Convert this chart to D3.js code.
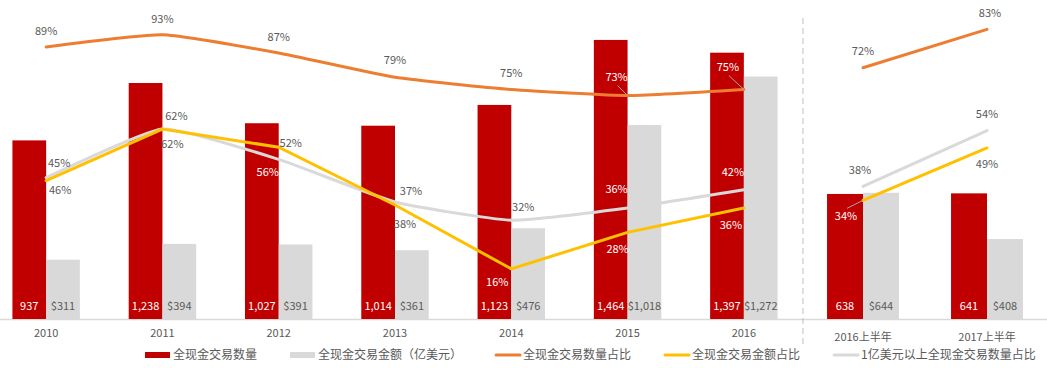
<!DOCTYPE html>
<html>
<head>
<meta charset="utf-8">
<style>
  body { margin: 0; background: #fff; }
  text { font-family: "Noto Sans CJK SC", "Noto Sans", sans-serif; }
</style>
</head>
<body>
<script src="https://d3js.org/d3.v7.min.js"></script>
<script>
// full years
var years = ['2010', '2011', '2012', '2013', '2014', '2015', '2016'];
var counts = [937, 1238, 1027, 1014, 1123, 1464, 1397];
var amounts = [311, 394, 391, 361, 476, 1018, 1272];
var countShare = [89, 93, 87, 79, 75, 73, 75];
var amountShare = [45, 62, 56, 37, 16, 28, 36];
var bigShare = [46, 62, 52, 38, 32, 36, 42];

// half years
var halfYears = ['2016上半年', '2017上半年'];
var halfCounts = [638, 641];
var halfAmounts = [644, 408];
var halfCountShare = [72, 83];
var halfAmountShare = [34, 49];
var halfBigShare = [38, 54];

var legendNames = ['全现金交易数量', '全现金交易金额（亿美元）', '全现金交易数量占比', '全现金交易金额占比', '1亿美元以上全现金交易数量占比'];

// label placement (dx, dy from the point), third item = draw a leader line
var countLabelPos = [[0,-16],[0,-16],[0,-16],[0,-17],[0,-16],[-11,-18,1],[-16,-22,1]];
var amountLabelPos = [[13,-18],[14,-13],[-11,25],[16,-14],[-14,13],[-10,17],[-13,17]];
var bigLabelPos = [[14,12],[10,15],[12,-16],[10,22],[12,-13],[-11,-19],[-11,-18]];
var halfCountLabelPos = [[0,-17],[3,-16]];
var halfAmountLabelPos = [[-17,16,1],[0,16]];
var halfBigLabelPos = [[-3,-16],[0,-16]];

var red = '#C00000', grey = '#D9D9D9', orange = '#ED7D31', yellow = '#FFC000', txt = '#595959';
var width = 1047, height = 368, base = 319;

var svg = d3.select('body').append('svg')
    .attr('width', width)
    .attr('height', height);

var gBars = svg.append('g'), gLines = svg.append('g'), gLabels = svg.append('g');
var redRects = [];
var smooth = d3.curveCardinal.tension(0.55);

function panel(cats, cnt, amt, cShare, aShare, bShare, xr, yMax, pRange, pos, axisPad) {
    var x0 = d3.scaleBand().domain(cats).range(xr).paddingInner(0.42).paddingOuter(0.21);
    var x1 = d3.scaleBand().domain(['c', 'a']).range([0, x0.bandwidth()]);
    var y = d3.scaleLinear().domain([0, 1600]).range([base, yMax]);
    var yp = d3.scaleLinear().domain([0, 100]).range(pRange);
    var cx = function(d, i) { return x0(cats[i]) + x0.bandwidth() / 2; };

    // axis
    var ax = svg.insert('g', ':first-child')
        .attr('transform', 'translate(0,' + base + ')')
        .call(d3.axisBottom(x0).tickSize(0).tickPadding(axisPad));
    ax.select('.domain').attr('stroke', grey).attr('stroke-width', 1.5);
    ax.selectAll('text').attr('fill', txt).style('font-size', '11px')
        .style('font-family', '"Noto Sans CJK SC", sans-serif');

    gBars.selectAll(null).data(cnt).enter().append('rect')
        .attr('x', function(d, i) { return x0(cats[i]) + x1('c'); })
        .attr('width', x1.bandwidth())
        .attr('y', function(d) { return y(d); })
        .attr('height', function(d) { return base - y(d); })
        .attr('fill', red)
        .each(function(d, i) {
            redRects.push([x0(cats[i]) + x1('c'), y(d), x0(cats[i]) + x1('c') + x1.bandwidth()]);
        });
    gBars.selectAll(null).data(amt).enter().append('rect')
        .attr('x', function(d, i) { return x0(cats[i]) + x1('a'); })
        .attr('width', x1.bandwidth())
        .attr('y', function(d) { return y(d); })
        .attr('height', function(d) { return base - y(d); })
        .attr('fill', grey);

    // bar value labels
    gLabels.selectAll(null).data(cnt).enter().append('text')
        .attr('x', function(d, i) { return x0(cats[i]) + x1('c') + x1.bandwidth() / 2; })
        .attr('y', 306).attr('dy', '0.35em')
        .attr('text-anchor', 'middle').attr('fill', '#fff').style('font-size', '11px')
        .text(function(d) { return d3.format(',')(d); });
    gLabels.selectAll(null).data(amt).enter().append('text')
        .attr('x', function(d, i) { return x0(cats[i]) + x1('a') + x1.bandwidth() / 2; })
        .attr('y', 306).attr('dy', '0.35em')
        .attr('text-anchor', 'middle').attr('fill', txt).style('font-size', '11px')
        .text(function(d) { return '$' + d3.format(',')(d); });

    var series = [
        { v: cShare, color: orange, curve: smooth, pos: pos[0] },
        { v: bShare, color: grey, curve: smooth, pos: pos[2] },
        { v: aShare, color: yellow, curve: d3.curveLinear, pos: pos[1] }
    ];
    series.forEach(function(s) {
        var line = d3.line()
            .x(function(d, i) { return cx(d, i); })
            .y(function(d) { return yp(d); })
            .curve(s.curve);
        gLines.append('path').datum(s.v)
            .attr('d', line)
            .attr('fill', 'none')
            .attr('stroke', s.color)
            .attr('stroke-width', 3)
            .attr('stroke-linecap', 'round');
        s.v.forEach(function(d, i) {
            var px = cx(d, i), py = yp(d), p = s.pos[i];
            var tx = px + p[0], ty = py + p[1];
            var inside = redRects.some(function(r) { return tx > r[0] && tx < r[2] + 2 && ty > r[1]; });
            if (p[2]) {
                gLabels.append('line')
                    .attr('x1', tx + 1).attr('y1', ty + (p[1] < 0 ? 8 : -8))
                    .attr('x2', px).attr('y2', py)
                    .attr('stroke', '#a6a6a6').attr('stroke-width', 1);
            }
            gLabels.append('text')
                .attr('x', tx).attr('y', ty).attr('dy', '0.35em')
                .attr('text-anchor', 'middle')
                .attr('fill', inside ? '#fff' : txt)
                .style('font-size', '11px')
                .text(d + '%');
        });
    });
}

panel(years, counts, amounts, countShare, amountShare, bigShare,
      [-12, 802], 14, [317.5, 13.5], [countLabelPos, amountLabelPos, bigLabelPos], 10);
panel(halfYears, halfCounts, halfAmounts, halfCountShare, halfAmountShare, halfBigShare,
      [801, 1049], 5.4, [319, -30], [halfCountLabelPos, halfAmountLabelPos, halfBigLabelPos], 14);

// divider
svg.append('line')
    .attr('x1', 803).attr('x2', 803).attr('y1', 18).attr('y2', 345)
    .attr('stroke', '#bfbfbf').attr('stroke-width', 1)
    .attr('stroke-dasharray', '6,4');

// legend
var legendColors = [red, grey, orange, yellow, grey];
var legendType = ['rect', 'rect', 'line', 'line', 'line'];
var lx = 145, ly = 355;
var legend = svg.append('g');
legendNames.forEach(function(name, i) {
    var g = legend.append('g');
    if (legendType[i] == 'rect') {
        g.append('rect').attr('x', lx).attr('y', ly - 3).attr('width', 25).attr('height', 6)
            .attr('fill', legendColors[i]);
    } else {
        g.append('line').attr('x1', lx + 1).attr('x2', lx + 25).attr('y1', ly).attr('y2', ly)
            .attr('stroke', legendColors[i]).attr('stroke-width', 3).attr('stroke-linecap', 'round');
    }
    var t = g.append('text').attr('x', lx + 28).attr('y', ly).attr('dy', '0.35em')
        .attr('fill', txt).style('font-size', '12px').text(name);
    lx += 28 + t.node().getComputedTextLength() + 33;
});
</script>
</body>
</html>
